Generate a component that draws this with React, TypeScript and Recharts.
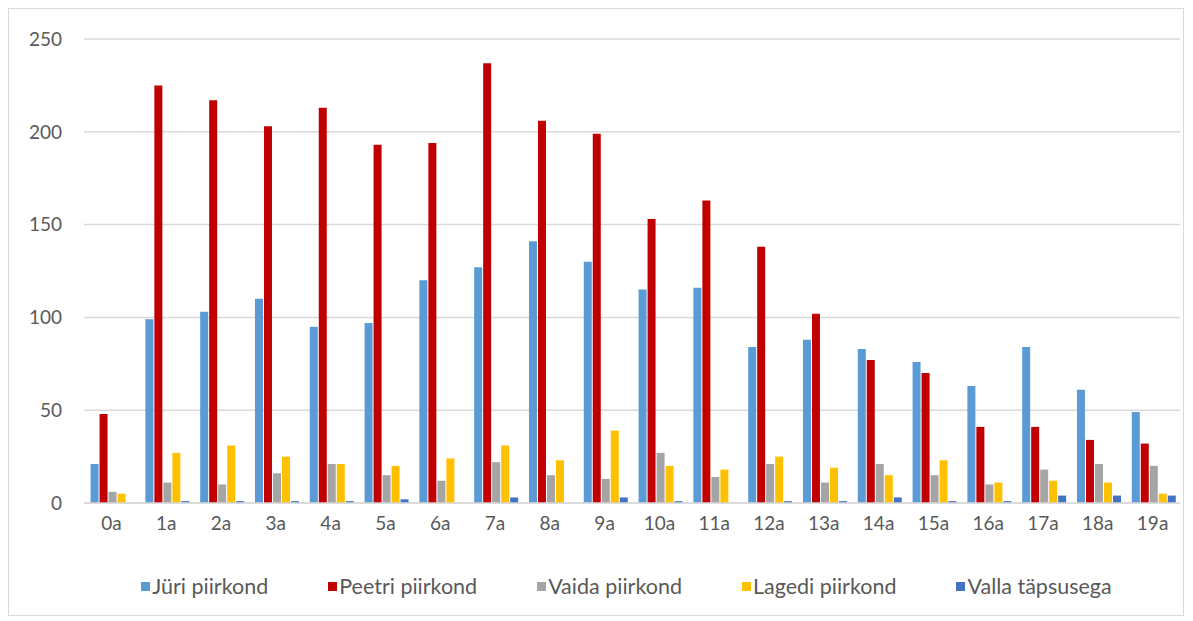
import { BarChart, Bar, XAxis, YAxis, CartesianGrid, Legend } from 'recharts';

const ages = ['0a', '1a', '2a', '3a', '4a', '5a', '6a', '7a', '8a', '9a', '10a', '11a', '12a', '13a', '14a', '15a', '16a', '17a', '18a', '19a'];
const juri = [21, 99, 103, 110, 95, 97, 120, 127, 141, 130, 115, 116, 84, 88, 83, 76, 63, 84, 61, 49];
const peetri = [48, 225, 217, 203, 213, 193, 194, 237, 206, 199, 153, 163, 138, 102, 77, 70, 41, 41, 34, 32];
const vaida = [6, 11, 10, 16, 21, 15, 12, 22, 15, 13, 27, 14, 21, 11, 21, 15, 10, 18, 21, 20];
const lagedi = [5, 27, 31, 25, 21, 20, 24, 31, 23, 39, 20, 18, 25, 19, 15, 23, 11, 12, 11, 5];
const valla = [0, 1, 1, 1, 1, 2, 0, 3, 0, 3, 1, 0, 1, 1, 3, 1, 1, 4, 4, 4];
const yTicks = [0, 50, 100, 150, 200, 250];

const data = ages.map((age, i) => ({
  age,
  'Jüri piirkond': juri[i],
  'Peetri piirkond': peetri[i],
  'Vaida piirkond': vaida[i],
  'Lagedi piirkond': lagedi[i],
  'Valla täpsusega': valla[i],
}));

const series = [
  { key: 'Jüri piirkond', color: '#5B9BD5' },
  { key: 'Peetri piirkond', color: '#C00000' },
  { key: 'Vaida piirkond', color: '#A5A5A5' },
  { key: 'Lagedi piirkond', color: '#FFC000' },
  { key: 'Valla täpsusega', color: '#4472C4' },
];

const font = 'Lato, "Open Sans", sans-serif';

function renderLegend() {
  return (
    <div style={{ display: 'flex', justifyContent: 'center', gap: 60, fontFamily: font }}>
      {series.map((s) => (
        <div key={s.key} style={{ display: 'flex', alignItems: 'center' }}>
          <span style={{ width: 9, height: 9, background: s.color, marginRight: 2 }} />
          <span style={{ color: '#595959', fontSize: 21.5 }}>{s.key}</span>
        </div>
      ))}
    </div>
  );
}

export default function App() {
  return (
    <div style={{ width: 1174, height: 606, border: '1px solid #d9d9d9', background: '#fff', fontFamily: font }}>
      <BarChart
        width={1174}
        height={606}
        data={data}
        margin={{ top: 30, right: 3, left: 0, bottom: 40 }}
        barCategoryGap="12%"
        barGap={1}
      >
        <CartesianGrid vertical={false} stroke="#d9d9d9" strokeWidth={1.5} />
        <XAxis
          dataKey="age"
          tickLine={false}
          axisLine={{ stroke: '#d9d9d9', strokeWidth: 1.5 }}
          tick={{ fontSize: 19, fill: '#595959', fontFamily: font }}
          tickMargin={8}
          height={34}
          interval={0}
        />
        <YAxis
          domain={[0, 250]}
          ticks={yTicks}
          tickLine={false}
          axisLine={false}
          tick={{ fontSize: 19, fill: '#595959', fontFamily: font }}
          tickMargin={16}
          width={75}
        />
        <Legend content={renderLegend} height={38} wrapperStyle={{ top: 564, left: 32 }} />
        {series.map((s) => (
          <Bar key={s.key} dataKey={s.key} fill={s.color} isAnimationActive={false} />
        ))}
      </BarChart>
    </div>
  );
}
